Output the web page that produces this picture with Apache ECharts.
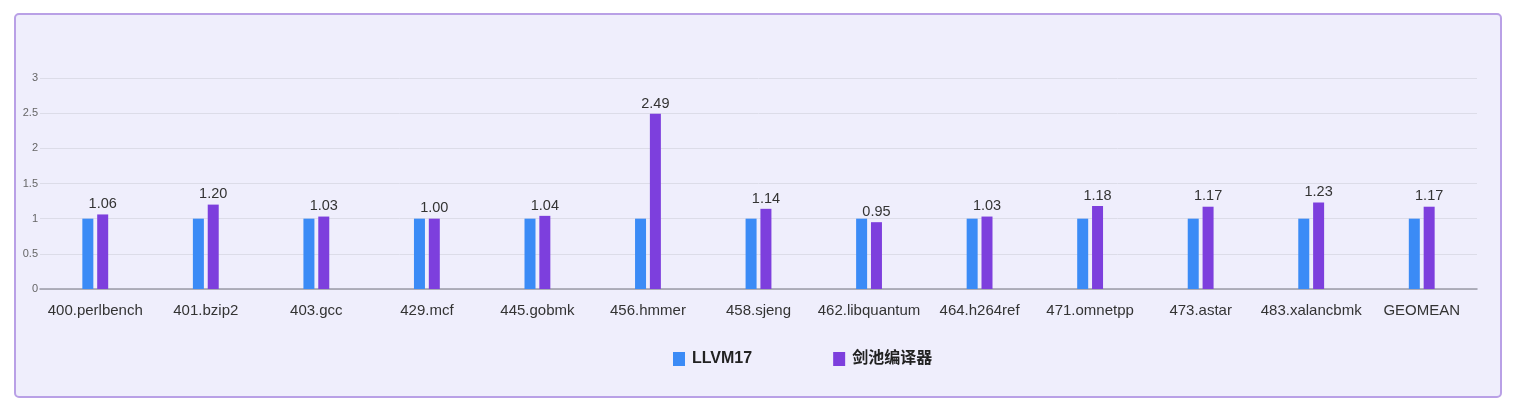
<!DOCTYPE html>
<html>
<head>
<meta charset="utf-8">
<script src="https://cdn.jsdelivr.net/npm/echarts@6/dist/echarts.min.js"></script>
<style>
  html, body { margin: 0; padding: 0; background: #ffffff; }
  #box {
    position: absolute; left: 14px; top: 13px; width: 1484px; height: 381px;
    background: #efeefc; border: 2px solid #b9a0e6; border-radius: 5px;
  }
  #mainChart { position: absolute; left: 0; top: 0; width: 1529px; height: 414px; }
</style>
</head>
<body>
<div id="box"></div>
<div id="mainChart"></div>
<script>
// 基准名
var categories = ['400.perlbench', '401.bzip2', '403.gcc', '429.mcf', '445.gobmk', '456.hmmer',
    '458.sjeng', '462.libquantum', '464.h264ref', '471.omnetpp', '473.astar', '483.xalancbmk', 'GEOMEAN'];
var llvmValues = [1, 1, 1, 1, 1, 1, 1, 1, 1, 1, 1, 1, 1];
var jianchiValues = [1.06, 1.20, 1.03, 1.00, 1.04, 2.49, 1.14, 0.95, 1.03, 1.18, 1.17, 1.23, 1.17];
var seriesNames = ['LLVM17', '剑池编译器'];

var myChart = echarts.init(document.getElementById('mainChart'));
var option = {
    backgroundColor: 'transparent',
    textStyle: { fontFamily: '"Liberation Sans", Arial, "Noto Sans CJK SC", sans-serif' },
    grid: { left: 40, right: 52, top: 78, bottom: 125 },
    legend: {
        top: 346,
        left: 668,
        itemGap: 81,
        itemWidth: 12,
        itemHeight: 14,
        icon: 'rect',
        textStyle: { fontSize: 16, color: '#222', fontWeight: 600, padding: [0, 0, 0, 2],
            fontFamily: '"Liberation Sans", "Noto Sans CJK SC", sans-serif' },
        data: seriesNames
    },
    xAxis: {
        type: 'category',
        data: categories,
        axisTick: { show: false },
        axisLine: { lineStyle: { color: '#9a9aa6', width: 1.5 } },
        axisLabel: { color: '#333', fontSize: 15, margin: 14, interval: 0 }
    },
    yAxis: {
        type: 'value',
        min: 0,
        max: 3,
        interval: 0.5,
        axisLabel: { color: '#666', fontSize: 11, margin: 2 },
        splitLine: { lineStyle: { color: '#dcdce8' } }
    },
    series: [
        {
            name: seriesNames[0],
            type: 'bar',
            barWidth: 11,
            barGap: '35%',
            itemStyle: { color: '#3b8bf6' },
            data: llvmValues
        },
        {
            name: seriesNames[1],
            type: 'bar',
            barWidth: 11,
            itemStyle: { color: '#7d3fdd' },
            label: {
                show: true,
                position: 'top',
                distance: 3,
                color: '#333',
                fontSize: 14.5,
                formatter: function (p) { return p.value.toFixed(2); }
            },
            data: jianchiValues
        }
    ]
};
myChart.setOption(option);
</script>
</body>
</html>
